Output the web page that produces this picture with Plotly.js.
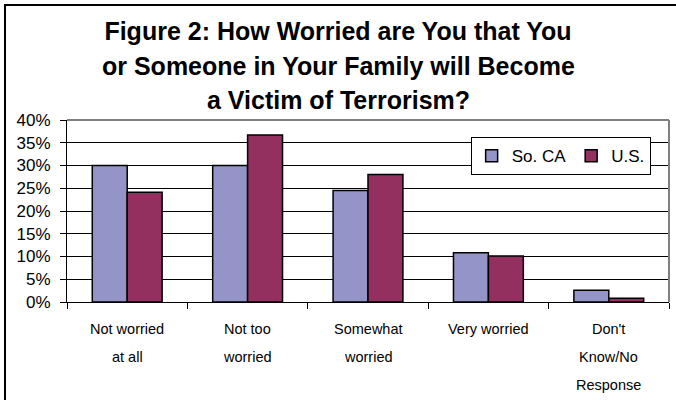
<!DOCTYPE html>
<html>
<head>
<meta charset="utf-8">
<script src="https://cdn.plot.ly/plotly-3.0.1.min.js"></script>
<style>
html,body{margin:0;padding:0;background:#fff;}
#chart{width:676px;height:400px;}
</style>
</head>
<body>
<div id="chart"></div>
<script>
var categories = ["Not worried<br>at all", "Not too<br>worried", "Somewhat<br>worried", "Very worried", "Don't<br>Know/No<br>Response"];
var soCA = [0.30, 0.30, 0.245, 0.108, 0.026];
var us = [0.241, 0.367, 0.28, 0.101, 0.008];
var seriesNames = ["So. CA", "U.S."];
var yTickVals = [0, 0.05, 0.10, 0.15, 0.20, 0.25, 0.30, 0.35, 0.40];
var yTickText = ["0%", "5%", "10%", "15%", "20%", "25%", "30%", "35%", "40%"];
var titleLines = ["Figure 2: How Worried are You that You", "or Someone in Your Family will Become", "a Victim of Terrorism?"];

var font = "Arial, 'Liberation Sans', sans-serif";
var W = 676, H = 400, ML = 67, MR = 7;
var plotW = W - ML - MR;

var traces = [
  {type: "bar", name: seriesNames[0], x: categories, y: soCA,
   marker: {color: "#9494C8", line: {color: "#000", width: 1.5}}, hoverinfo: "none"},
  {type: "bar", name: seriesNames[1], x: categories, y: us,
   marker: {color: "#933060", line: {color: "#000", width: 1.5}}, hoverinfo: "none"}
];

var annotations = [];
categories.forEach(function (c) {
  c.split("<br>").forEach(function (line, j) {
    annotations.push({
      x: c, xref: "x", y: 0, yref: "paper",
      text: line, showarrow: false,
      xanchor: "center", yanchor: "middle",
      yshift: -(27 + 28 * j),
      font: {family: font, size: 14.5, color: "#000"}
    });
  });
});
// title continuation lines (wider line spacing than Plotly's default), centred on the page
titleLines.slice(1).forEach(function (line, j) {
  annotations.push({
    x: (W / 2 - ML) / plotW, xref: "paper", y: 1, yref: "paper",
    text: "<b>" + line + "</b>", showarrow: false,
    xanchor: "center", yanchor: "middle",
    yshift: 54 - 34 * j,
    font: {family: font, size: 25, color: "#000"}
  });
});

var layout = {
  width: W, height: H,
  margin: {l: ML, r: MR, t: 120, b: 98, pad: 0},
  paper_bgcolor: "#fff", plot_bgcolor: "#fff",
  title: {text: "<b>" + titleLines[0] + "</b>", x: 0.5, xref: "container", xanchor: "center",
          y: 1 - 31 / 400, yref: "container", yanchor: "middle",
          font: {family: font, size: 25, color: "#000"}},
  barmode: "group", bargap: 0.42, bargroupgap: 0,
  showlegend: true,
  legend: {orientation: "h", x: 0.82, y: 0.905, xanchor: "center", yanchor: "top",
           bgcolor: "#fff", bordercolor: "#000", borderwidth: 1,
           font: {family: font, size: 17, color: "#000"},
           itemwidth: 30, tracegroupgap: 0},
  xaxis: {type: "category", showticklabels: false, tickson: "boundaries",
          ticks: "outside", ticklen: 6, tickcolor: "#000", tickwidth: 1,
          showline: true, linecolor: "#000", linewidth: 1, showgrid: false,
          fixedrange: true},
  yaxis: {range: [0, 0.4], tickvals: yTickVals, ticktext: yTickText,
          ticks: "outside", ticklen: 6, tickcolor: "#000", tickwidth: 1,
          ticklabelstandoff: 6,
          showline: true, linecolor: "#000", linewidth: 1,
          showgrid: true, gridcolor: "#000", gridwidth: 1, zeroline: false,
          tickfont: {family: font, size: 17, color: "#000"},
          fixedrange: true},
  annotations: annotations,
  shapes: [
    {type: "line", xref: "paper", yref: "paper", x0: 0, x1: 1, y0: 1, y1: 1,
     line: {color: "#808080", width: 2}, layer: "above"},
    {type: "line", xref: "paper", yref: "paper", x0: 1, x1: 1, y0: 0, y1: 1,
     line: {color: "#808080", width: 2}, layer: "above"},
    {type: "rect", xref: "paper", yref: "paper", x0: -0.1030, x1: 1.5, y0: -1, y1: 1.632,
     line: {color: "#000", width: 2}, fillcolor: "rgba(0,0,0,0)", layer: "above"}
  ]
};

Plotly.newPlot("chart", traces, layout, {displayModeBar: false, staticPlot: true});
</script>
</body>
</html>
